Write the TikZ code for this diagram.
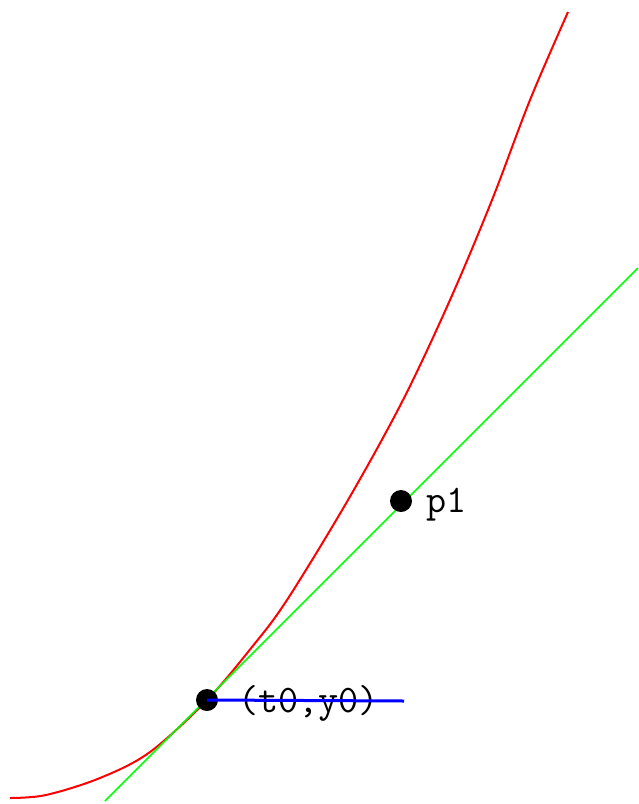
\documentclass[tikz,border=0pt]{standalone}
\usepackage{fontspec}
\begin{document}
\begin{tikzpicture}[x=1pt,y=-1pt,
  dotnode/.style={circle,fill=black,inner sep=0pt,minimum size=22pt},
  lbl/.style={font=\ttfamily\addfontfeatures{LetterSpace=4}\fontsize{39}{39}\selectfont,inner sep=0pt,text=black},
  curve/.style={red,line width=2pt},
  tangentline/.style={green,line width=1.6pt},
  levelline/.style={blue,line width=3pt}]
\useasboundingbox (0,0) rectangle (638,804);
% red solution curve
\draw[curve] plot[smooth,tension=0.55] coordinates {(10,798) (46,795) (100,778) (150,752) (207,700) (252,647) (287,600) (348,500) (403,400) (450,300) (492,200) (530,100) (568,12)};
% green tangent
\coordinate (g0) at (105,801);
\coordinate (g1) at (638,268);
\draw[tangentline] (g0) -- (g1);
% points
\node[dotnode] (p0) at (207,700) {};
\node[dotnode] (p1) at (401,501) {};
% labels
\node[lbl,anchor=west] (l0) at (238,703) {(t0,y0)};
\node[lbl,anchor=base west] (l1) at (426,512) {p1};
% blue horizontal
\coordinate (b1) at (404,701);
\draw[levelline] (p0.center) -- (b1);
\end{tikzpicture}
\end{document}
